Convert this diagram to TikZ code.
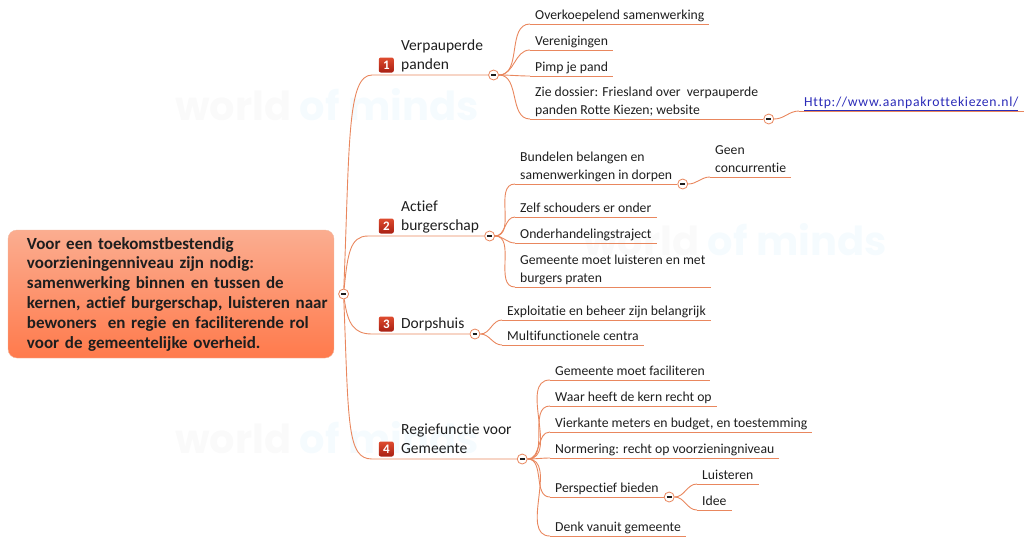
\documentclass[tikz,border=0pt]{standalone}
\usepackage{fontspec}
\setmainfont{Carlito}[Ligatures=NoCommon]
\newfontfamily\wmfont{Poppins}
\usetikzlibrary{positioning}
\definecolor{corange}{HTML}{E9875E}
\definecolor{cdark}{HTML}{1E1E1E}
\definecolor{clink}{HTML}{2B2BB8}
\definecolor{croottop}{HTML}{FBAD90}
\definecolor{crootbot}{HTML}{FF7A4C}
\definecolor{cbadgetop}{HTML}{DE4B2F}
\definecolor{cbadgebot}{HTML}{A81F12}
\definecolor{cwmgrey}{HTML}{FAFAFA}
\definecolor{cwmblue}{HTML}{F5FBFE}
\newcommand\leaffont{\fontsize{13.7}{18}\selectfont}
\newcommand\topicfont{\fontsize{15.5}{19}\selectfont}
\newcommand\rootfont{\bfseries\fontsize{17}{19.8}\selectfont}
\newcommand\rl[1]{\mbox{#1}}
\tikzset{
  branch/.style={draw=corange, line width=0.9pt},
  fold/.style={circle, draw=corange, fill=white, line width=0.8pt, minimum size=10pt, inner sep=0pt,
    path picture={\draw[cdark, line width=1.1pt] ([xshift=-2.4pt]path picture bounding box.center) -- ([xshift=2.4pt]path picture bounding box.center);}},
  root/.style={draw=corange!60, rounded corners=9pt, top color=croottop, bottom color=crootbot,
    minimum width=326pt, minimum height=128pt, inner xsep=0pt, text width=326pt, align=left,
    font=\rootfont, text=cdark},
  topic/.style={anchor=south west, align=left, font=\topicfont, text=cdark, inner xsep=5pt, inner ysep=1.5pt, text depth=4pt},
  badge/.style={rounded corners=2pt, top color=cbadgetop, bottom color=cbadgebot, text=white,
    font=\bfseries\fontsize{13}{13}\selectfont, minimum width=15pt, minimum height=15pt, inner sep=0pt},
  sub/.style={anchor=south west, align=left, font=\leaffont, text=cdark, inner xsep=5pt, inner ysep=1.2pt, text depth=3pt,
    append after command={(\tikzlastnode.south west) edge[branch] (\tikzlastnode.south east)}},
  wm/.style={font=\wmfont\bfseries\fontsize{40}{40}\selectfont, anchor=west, inner sep=0pt},
}
\begin{document}
\begin{tikzpicture}[x=1pt, y=-1pt]
  \useasboundingbox (0,0) rectangle (1024,542);
  % watermark
  \foreach \x/\y in {175/105, 583/240, 175/438}
    \node[wm] (wm\x\y) at (\x,\y) {\textcolor{cwmgrey}{world} \textcolor{cwmblue}{of minds}};

  % central topic
  \node[root] (r) at (171,294) {\leftskip=19pt
    \rl{Voor een toekomstbestendig}\\
    \rl{voorzieningenniveau zijn nodig:}\\
    \rl{samenwerking binnen en tussen de}\\
    \rl{kernen, actief burgerschap, luisteren naar}\\
    \rl{bewoners\ \ en regie en faciliterende rol}\\
    \rl{voor de gemeentelijke overheid.}\par};
  \node[fold, right=4pt of r.east] (c0) {};

  % main topics
  \foreach \i/\y/\t in {1/75/{Verpauperde\\panden}, 2/236/{Actief\\burgerschap}, 3/334/Dorpshuis, 4/459/{Regiefunctie voor\\Gemeente}} {
    \node[topic] (m\i) at (396,\y) {\t};
    \node[badge, left=2pt of m\i.south west, yshift=10pt] (b\i) {\i};
    \node[fold, right=0pt of m\i.south east] (c\i) {};
  }
  \coordinate (j1) at (372,75);
  \coordinate (j2) at (368,236);
  \coordinate (j3) at (372,334);
  \coordinate (j4) at (372,459);
  \draw[branch] (c0) .. controls +(6,-150) and +(-25,0) .. (j1) -- (c1);
  \draw[branch] (c0) .. controls +(4,-40) and +(-18,0) .. (j2) -- (c2);
  \draw[branch] (c0) .. controls +(4,30) and +(-18,0) .. (j3) -- (c3);
  \draw[branch] (c0) .. controls +(5,130) and +(-25,0) .. (j4) -- (c4);

  % 1 Verpauperde panden
  \foreach \n/\y/\t in {1/24/Overkoepelend samenwerking, 2/50/Verenigingen, 3/76/Pimp je pand,
      4/119/{Zie dossier: Friesland over\ \ verpauperde\\panden Rotte Kiezen; website}} {
    \node[sub] (s1\n) at (530,\y) {\t};
    \draw[branch] (c1) to[out=0, in=180] (s1\n.south west);
  }
  \node[fold, right=0pt of s14.south east] (c14) {};
  \node[sub, text=clink] (l1) at (799,111) {\addfontfeature{LetterSpace=5}\underline{Http://www.aanpakrottekiezen.nl/}};
  \draw[branch] (c14) to[out=0, in=180] (l1.south west);

  % 2 Actief burgerschap
  \foreach \n/\y/\t in {1/184/{Bundelen belangen en\\samenwerkingen in dorpen}, 2/217/Zelf schouders er onder,
      3/243/Onderhandelingstraject, 4/287/{Gemeente moet luisteren en met\\burgers praten}} {
    \node[sub] (s2\n) at (515,\y) {\t};
    \draw[branch] (c2) to[out=0, in=180] (s2\n.south west);
  }
  \node[fold, right=0pt of s21.south east] (c21) {};
  \node[sub] (g1) at (710,177) {Geen\\concurrentie};
  \draw[branch] (c21) to[out=0, in=180] (g1.south west);

  % 3 Dorpshuis
  \foreach \n/\y/\t in {1/320/Exploitatie en beheer zijn belangrijk, 2/345/Multifunctionele centra} {
    \node[sub] (s3\n) at (502,\y) {\t};
    \draw[branch] (c3) to[out=0, in=180] (s3\n.south west);
  }

  % 4 Regiefunctie voor Gemeente
  \foreach \n/\y/\t in {1/380/Gemeente moet faciliteren, 2/406/Waar heeft de kern recht op,
      3/432/{Vierkante meters en budget, en toestemming}, 4/458/{Normering: recht op voorzieningniveau},
      5/497/Perspectief bieden, 6/536/Denk vanuit gemeente} {
    \node[sub] (s4\n) at (550,\y) {\t};
    \draw[branch] (c4) to[out=0, in=180] (s4\n.south west);
  }
  \node[fold, right=0pt of s45.south east] (c45) {};
  \node[sub] (p1) at (697,484) {Luisteren};
  \node[sub] (p2) at (697,510) {Idee};
  \draw[branch] (c45) to[out=0, in=180] (p1.south west);
  \draw[branch] (c45) to[out=0, in=180] (p2.south west);
\end{tikzpicture}
\end{document}
